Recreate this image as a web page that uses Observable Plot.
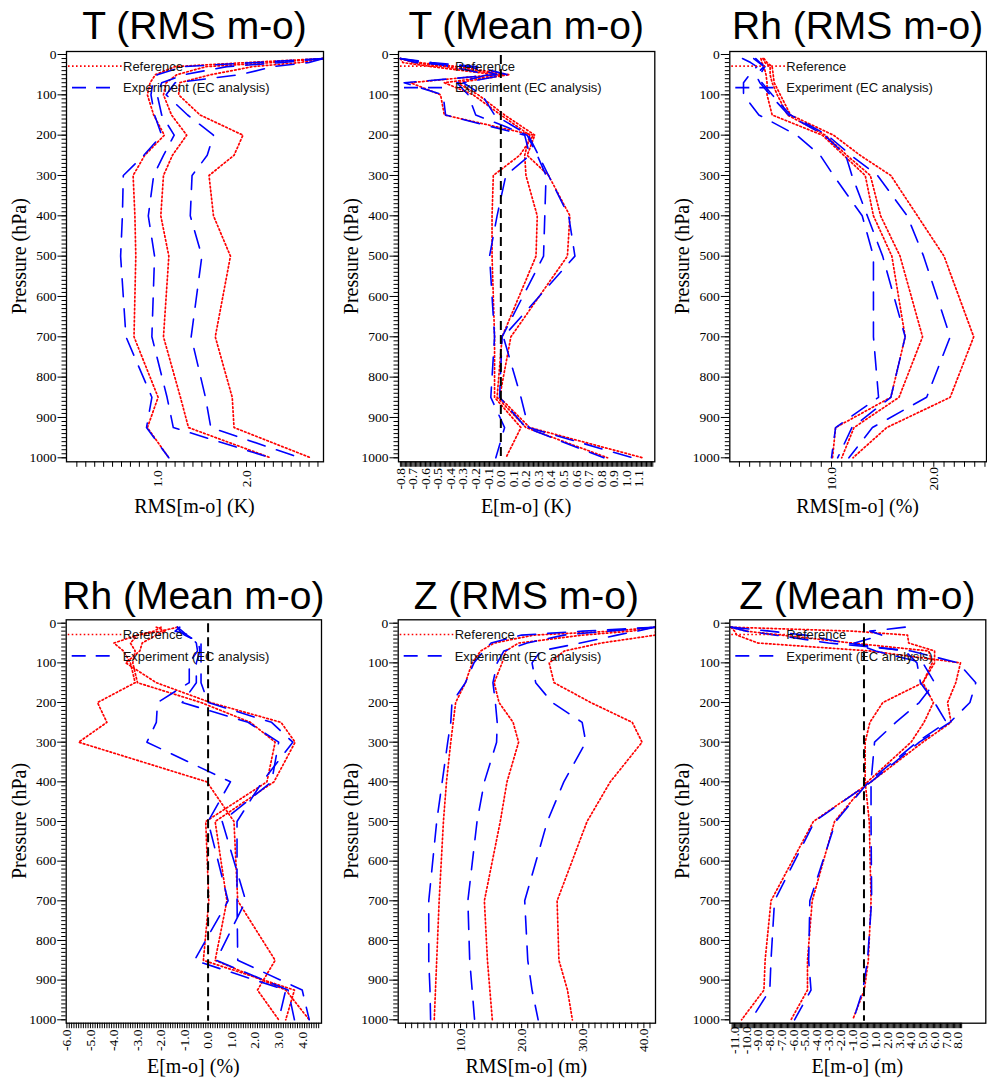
<!DOCTYPE html>
<html>
<head>
<meta charset="utf-8">
<script src="https://cdn.jsdelivr.net/npm/d3@7"></script>
<script src="https://cdn.jsdelivr.net/npm/@observablehq/plot@0.6"></script>
<style>
  html, body { margin: 0; padding: 0; background: #fff; }
  #root { position: relative; width: 987px; height: 1091px; overflow: hidden; background: #fff; }
  #root > svg, #root > figure { position: absolute; margin: 0; }
</style>
</head>
<body>
<div id="root"></div>
<script>
// Pressure levels (hPa)
const levels = [10, 20, 30, 50, 70, 100, 150, 200, 250, 300, 400, 500, 700, 850, 925, 1000];

// ---- T (RMS m-o), K ----
const tRmsRef = [
  [2.86, 2.0, 1.2, 0.98, 0.92, 0.89, 0.96, 1.08, 0.86, 0.73, 0.75, 0.76, 0.74, 1.01, 0.89, 1.13],
  [2.86, 2.3, 1.55, 1.22, 1.10, 1.07, 1.16, 1.33, 1.17, 1.07, 1.04, 1.13, 1.07, 1.26, 1.35, 2.27],
  [2.86, 2.6, 2.07, 1.6, 1.25, 1.24, 1.48, 1.96, 1.86, 1.58, 1.63, 1.82, 1.65, 1.84, 1.86, 2.72]
];
const tRmsExp = [
  [2.86, 2.1, 1.29, 1.0, 0.95, 0.93, 0.97, 1.05, 0.85, 0.62, 0.61, 0.59, 0.65, 0.94, 0.88, 1.13],
  [2.86, 2.4, 1.78, 1.3, 1.05, 1.0, 1.05, 1.19, 1.07, 0.96, 0.90, 0.97, 0.94, 1.11, 1.18, 2.27],
  [2.86, 2.7, 2.3, 1.93, 1.2, 1.1, 1.34, 1.63, 1.56, 1.39, 1.37, 1.50, 1.38, 1.54, 1.60, 2.60]
];

// ---- T (Mean m-o), K ----
const tMeanRef = [
  [-0.80, -0.78, -0.55, -0.05, -0.72, -0.48, -0.45, 0.26, 0.15, -0.06, -0.07, -0.07, -0.05, -0.05, 0.16, 0.04],
  [-0.80, -0.70, -0.45, 0.02, -0.45, -0.22, 0.0, 0.23, 0.19, 0.20, 0.29, 0.28, 0.01, -0.03, 0.20, 0.85],
  [-0.80, -0.65, -0.35, 0.07, -0.35, -0.18, 0.03, 0.27, 0.21, 0.38, 0.55, 0.53, 0.08, -0.01, 0.23, 1.13]
];
const tMeanExp = [
  [-0.80, -0.68, -0.25, -0.03, -0.77, -0.46, -0.44, 0.19, 0.23, 0.04, -0.03, -0.09, -0.05, -0.08, 0.03, -0.04],
  [-0.80, -0.60, -0.40, -0.10, -0.35, -0.26, -0.20, 0.21, 0.29, 0.36, 0.35, 0.34, 0.01, -0.01, 0.20, 0.82],
  [-0.80, -0.55, -0.20, 0.05, -0.30, -0.15, -0.05, 0.22, 0.30, 0.38, 0.54, 0.59, 0.02, 0.16, 0.22, 1.05]
];

// ---- Rh (RMS m-o), % ----
const rhRmsRef = [
  [3.1, 3.2, 3.4, 3.6, 3.7, 3.7, 4.2, 9.1, 11.2, 13.3, 14.1, 15.9, 17.2, 15.8, 10.4, 10.1],
  [3.3, 3.5, 4.0, 4.0, 4.2, 4.7, 5.7, 9.4, 11.5, 13.8, 14.8, 16.7, 18.9, 16.6, 12.2, 11.0],
  [3.4, 3.7, 4.2, 4.3, 4.4, 5.0, 6.0, 10.2, 12.8, 15.8, 18.4, 21.0, 23.9, 21.6, 15.4, 12.1]
];
const rhRmsExp = [
  [1.3, 2.1, 2.7, 2.0, 1.4, 1.4, 2.9, 6.6, 8.9, 10.2, 13.0, 14.1, 14.1, 14.6, 10.4, 10.0],
  [2.4, 2.9, 3.4, 2.6, 3.0, 4.0, 5.8, 9.3, 11.4, 12.0, 13.5, 15.0, 17.2, 15.8, 12.0, 10.6],
  [2.6, 3.0, 3.5, 3.0, 3.2, 4.2, 6.0, 9.6, 11.9, 14.5, 17.4, 19.0, 21.6, 19.3, 14.0, 11.7]
];

// ---- Rh (Mean m-o), % ----
const rhMeanRef = [
  [-1.3, -2.0, -3.0, -4.0, -3.6, -3.3, -3.1, -4.7, -4.3, -5.5, -0.05, 1.1, 1.26, 2.85, 2.1, 3.0],
  [-2.0, -2.3, -3.0, -3.3, -3.1, -3.2, -3.0, -0.3, 1.8, 2.85, 2.5, -0.1, 0.03, -0.2, 3.67, 3.3],
  [-2.2, -1.8, -2.2, -2.8, -2.9, -3.5, -2.2, 0.1, 3.1, 3.7, 2.8, 0.3, 0.8, 0.3, 3.3, 4.3]
];
const rhMeanExp = [
  [-1.2, -1.4, -0.8, -0.5, -0.45, -0.8, -0.8, -2.15, -2.2, -2.6, 0.95, 0.0, 0.85, -0.58, 3.3, 3.0],
  [-1.3, -1.1, -0.9, -0.4, -0.35, -0.5, -0.5, -1.1, 1.7, 3.0, 2.7, 0.6, 1.6, 0.34, 3.4, 3.67],
  [-1.3, -1.2, -1.0, -0.3, -0.3, -0.3, -0.3, 0.0, 2.7, 3.6, 2.3, 1.23, 1.23, 1.26, 4.0, 4.3]
];

// ---- Z (RMS m-o), m ----
const zRmsRef = [
  [41.9, 35.0, 22.0, 15.5, 13.3, 11.9, 10.8, 9.2, 8.8, 8.4, 7.7, 7.2, 6.5, 6.1, 5.9, 5.7],
  [41.9, 38.0, 30.0, 19.5, 17.4, 16.8, 15.5, 16.3, 18.6, 19.5, 17.6, 16.5, 13.9, 14.4, 14.8, 15.2],
  [41.9, 41.9, 41.9, 33.0, 27.0, 24.5, 25.3, 31.3, 38.1, 39.7, 34.5, 30.7, 25.8, 26.1, 27.5, 28.3]
];
const zRmsExp = [
  [41.9, 30.0, 20.0, 15.0, 13.8, 12.2, 10.8, 8.6, 8.4, 7.9, 7.0, 6.1, 4.8, 4.8, 5.0, 5.1],
  [41.9, 34.0, 26.9, 20.9, 17.1, 16.0, 15.3, 15.7, 16.0, 15.9, 13.9, 12.7, 11.2, 11.5, 11.9, 12.3],
  [41.9, 38.9, 35.6, 29.6, 23.1, 21.7, 22.3, 25.0, 29.9, 30.5, 26.9, 24.2, 20.5, 21.0, 21.7, 22.7]
];

// ---- Z (Mean m-o), m ----
const zMeanRef = [
  [-11.3, -11.0, -10.8, -9.0, 0.5, 8.2, 7.8, 7.1, 7.4, 5.0, 0.6, -4.3, -7.9, -8.4, -8.5, -10.4],
  [-11.3, -1.0, 3.7, 3.8, 6.0, 6.0, 5.0, 1.6, 0.5, 0.1, 0.1, 0.45, 0.6, 0.37, 0.03, -0.96],
  [-11.3, -10.0, -7.0, -1.0, 5.5, 5.8, 5.0, 5.9, 5.1, 4.0, 0.3, -2.5, -4.4, -4.8, -4.8, -6.2]
];
const zMeanExp = [
  [-11.3, -10.0, -7.5, -3.0, 4.0, 8.0, 9.5, 9.0, 7.3, 4.7, 0.6, -4.2, -7.6, -7.9, -8.0, -9.6],
  [-11.3, -8.0, -5.0, -1.5, 3.5, 4.5, 4.8, 6.0, 7.0, 4.5, 0.4, -2.4, -4.6, -4.7, -4.5, -5.9],
  [3.5, 0.5, 1.5, -0.8, 1.0, 5.0, 6.0, 4.7, 2.7, 0.9, 0.6, 0.6, 0.65, 0.3, -0.1, -0.9]
];

// ---- Tick labels ----
const yTickLabels = ["0", "100", "200", "300", "400", "500", "600", "700", "800", "900", "1000"];
const tRmsTicks = ["1.0", "2.0"];
const tMeanTicks = ["-0.8", "-0.7", "-0.6", "-0.5", "-0.4", "-0.3", "-0.2", "-0.1", "0.0", "0.1", "0.2", "0.3", "0.4", "0.5", "0.6", "0.7", "0.8", "0.9", "1.0", "1.1"];
const rhRmsTicks = ["10.0", "20.0"];
const rhMeanTicks = ["-6.0", "-5.0", "-4.0", "-3.0", "-2.0", "-1.0", "0.0", "1.0", "2.0", "3.0", "4.0"];
const zRmsTicks = ["10.0", "20.0", "30.0", "40.0"];
const zMeanTicks = ["-11.0", "-10.0", "-9.0", "-8.0", "-7.0", "-6.0", "-5.0", "-4.0", "-3.0", "-2.0", "-1.0", "0.0", "1.0", "2.0", "3.0", "4.0", "5.0", "6.0", "7.0", "8.0"];

const seriesNames = ["Reference", "Experiment (EC analysis)"];
const titles = ["T (RMS m-o)", "T (Mean m-o)", "Rh (RMS m-o)", "Rh (Mean m-o)", "Z (RMS m-o)", "Z (Mean m-o)"];
const xLabels = ["RMS[m-o] (K)", "E[m-o] (K)", "RMS[m-o] (%)", "E[m-o] (%)", "RMS[m-o] (m)", "E[m-o] (m)"];

// ---- Layout (positions / styles) ----
const rowGeom = [
  {svgTop: 0, H: 540, frameTop: 51, frameBottom: 461.3, inTop: 3, inBottom: 4, titleY: 39.3, xlabY: 513},
  {svgTop: 560, H: 531, frameTop: 619.3, frameBottom: 1022.7, inTop: 3.4, inBottom: 3.4, titleY: 609.3, xlabY: 1073}
];
const panels = [
  {row: 0, col: 0, fl: 66, fr: 323, domain: [-0.016, 2.862], ref: tRmsRef, exp: tRmsExp, ticks: tRmsTicks, minor: d3.range(1, 29).map(i => i / 10), zero: false},
  {row: 0, col: 1, fl: 398, fr: 654.3, domain: [-0.815, 1.226], ref: tMeanRef, exp: tMeanExp, ticks: tMeanTicks, minor: d3.range(-80, 122).map(i => i / 100), zero: true},
  {row: 0, col: 2, fl: 729.3, fr: 986, domain: [0.06, 25.15], ref: rhRmsRef, exp: rhRmsExp, ticks: rhRmsTicks, minor: d3.range(1, 26), zero: false},
  {row: 1, col: 0, fl: 65.7, fr: 321, domain: [-6.03, 4.82], ref: rhMeanRef, exp: rhMeanExp, ticks: rhMeanTicks, minor: d3.range(-60, 48).map(i => i / 10), zero: true},
  {row: 1, col: 1, fl: 397.7, fr: 655, domain: [-0.2, 41.9], ref: zRmsRef, exp: zRmsExp, ticks: zRmsTicks, minor: d3.range(1, 42), zero: false},
  {row: 1, col: 2, fl: 729.3, fr: 985.3, domain: [-11.4, 10.35], ref: zMeanRef, exp: zMeanExp, ticks: zMeanTicks, minor: d3.range(-112, 84).map(i => i / 10), zero: true}
];

const RED = "#ff0000", BLUE = "#0000ff";
const redDash = "1.6,2.4", blueDash = "18,12", legendBlueDash = "14,10";
const serif = '"Liberation Serif", "Times New Roman", Times, serif';
const sans = '"Liberation Sans", Arial, Helvetica, sans-serif';
const yMinor = d3.range(0, 1001, 10);

const root = document.getElementById("root");

function toRows(lines) {
  const rows = [];
  lines.forEach((arr, k) => arr.forEach((v, i) => rows.push({p: levels[i], v, k})));
  return rows;
}

panels.forEach((cfg, idx) => {
  const g = rowGeom[cfg.row];
  const W = 329, left = cfg.col * 329;
  const H = g.H;
  const mt = g.frameTop - g.svgTop;
  const mb = H - (g.frameBottom - g.svgTop);
  const ml = cfg.fl - left;
  const mr = left + W - cfg.fr;
  const marks = [
    Plot.line(toRows(cfg.ref), {x: "v", y: "p", z: "k", stroke: RED, strokeWidth: 1.7, strokeDasharray: redDash, clip: true}),
    Plot.line(toRows(cfg.exp), {x: "v", y: "p", z: "k", stroke: BLUE, strokeWidth: 1.6, strokeDasharray: blueDash, clip: true}),
    cfg.zero ? Plot.ruleX([0], {stroke: "black", strokeWidth: 2, strokeDasharray: "9,5", insetTop: 4, insetBottom: 2}) : null,
    Plot.frame({stroke: "black", strokeWidth: 1.3}),
    Plot.axisY(yMinor, {anchor: "left", tickSize: 4.5, tickFormat: () => "", label: null}),
    Plot.axisY(yTickLabels.map(Number), {anchor: "left", tickSize: 8.5, tickPadding: 1.5, tickFormat: d => String(d), label: null, fontSize: 13.5}),
    Plot.axisX(cfg.minor, {anchor: "bottom", tickSize: 5.5, tickFormat: () => "", label: null}),
    Plot.text(cfg.ticks, {x: d => +d, text: d => d, frameAnchor: "bottom", dy: 17, rotate: -90, textAnchor: "middle", lineAnchor: "middle", fontSize: 13.5, fill: "black"})
  ].filter(Boolean);
  const fig = Plot.plot({
    width: W, height: H,
    marginTop: mt, marginBottom: mb, marginLeft: ml, marginRight: mr,
    x: {domain: cfg.domain, axis: null},
    y: {domain: [0, 1000], reverse: true, axis: null, insetTop: g.inTop, insetBottom: g.inBottom},
    style: {fontFamily: serif, fontSize: "13px", background: "transparent", overflow: "visible", color: "black"},
    marks
  });
  fig.style.left = left + "px";
  fig.style.top = g.svgTop + "px";
  root.appendChild(fig);
});

// ---- Overlay: titles, axis labels, legends ----
const ov = d3.select(root).append("svg")
  .attr("width", 987).attr("height", 1091)
  .style("position", "absolute").style("left", "0px").style("top", "0px")
  .style("pointer-events", "none");

panels.forEach((cfg, idx) => {
  const g = rowGeom[cfg.row];
  const cx = (cfg.fl + cfg.fr) / 2;
  const cy = (g.frameTop + g.frameBottom) / 2;
  ov.append("text").attr("x", cx).attr("y", g.titleY).attr("text-anchor", "middle")
    .attr("font-family", sans).attr("font-size", 39).attr("fill", "#000").text(titles[idx]);
  ov.append("text").attr("x", cx).attr("y", g.xlabY).attr("text-anchor", "middle")
    .attr("font-family", serif).attr("font-size", 20).attr("fill", "#000").text(xLabels[idx]);
  ov.append("text").attr("transform", `translate(${cfg.fl - 47},${cy}) rotate(-90)`)
    .attr("text-anchor", "middle").attr("dy", "0.35em")
    .attr("font-family", serif).attr("font-size", 20).attr("fill", "#000").text("Pressure (hPa)");
  // legend
  const y1 = g.frameTop + 15.2, y2 = g.frameTop + 36.6;
  ov.append("line").attr("x1", cfg.fl + 2).attr("x2", cfg.fl + 56).attr("y1", y1).attr("y2", y1)
    .attr("stroke", RED).attr("stroke-width", 1.7).attr("stroke-dasharray", redDash);
  ov.append("line").attr("x1", cfg.fl + 6).attr("x2", cfg.fl + 54).attr("y1", y2).attr("y2", y2)
    .attr("stroke", BLUE).attr("stroke-width", 1.6).attr("stroke-dasharray", legendBlueDash);
  ov.append("text").attr("x", cfg.fl + 57).attr("y", y1 + 4.7).attr("font-family", sans)
    .attr("font-size", 13).attr("fill", "#111").text(seriesNames[0]);
  ov.append("text").attr("x", cfg.fl + 57).attr("y", y2 + 4.7).attr("font-family", sans)
    .attr("font-size", 13).attr("fill", "#111").text(seriesNames[1]);
});
</script>
</body>
</html>
